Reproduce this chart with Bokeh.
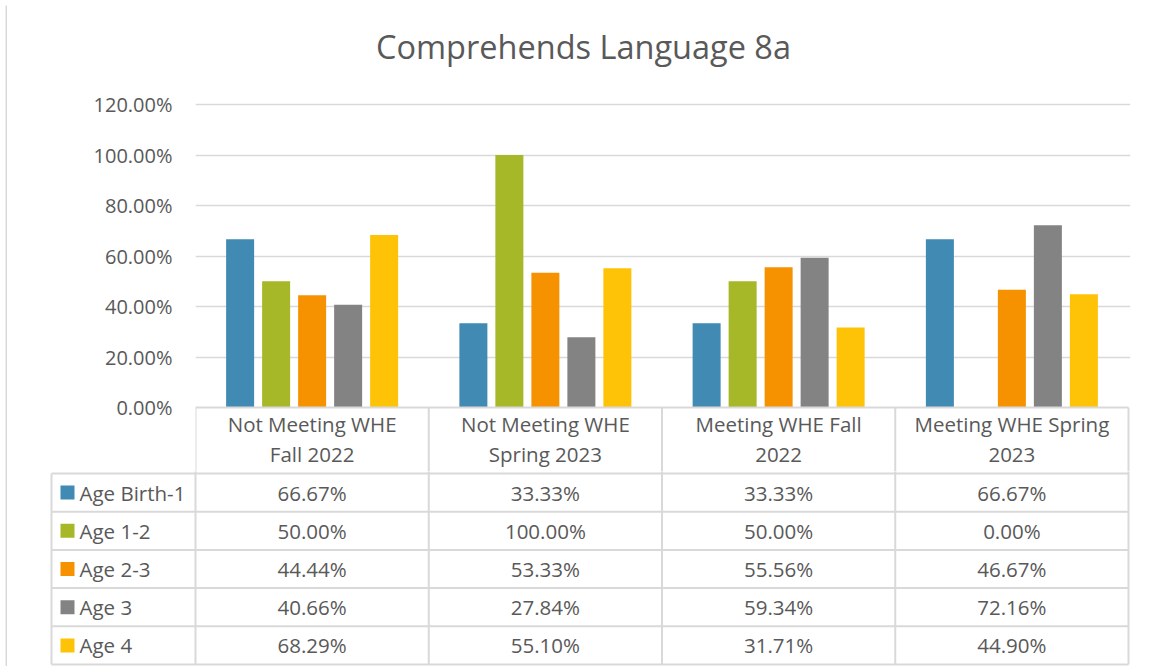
import numpy as np
from bokeh.plotting import figure
from bokeh.layouts import column, row
from bokeh.models import Range1d, FixedTicker, NumeralTickFormatter, ColumnDataSource
from bokeh.core.properties import value
from bokeh.embed import file_html
from bokeh.resources import INLINE

# ---------------- data ----------------
categories = ["Not Meeting WHE\nFall 2022", "Not Meeting WHE\nSpring 2023",
              "Meeting WHE Fall\n2022", "Meeting WHE Spring\n2023"]
series_names = ["Age Birth-1", "Age 1-2", "Age 2-3", "Age 3", "Age 4"]
age_birth_1 = [66.67, 33.33, 33.33, 66.67]
age_1_2 = [50.00, 100.00, 50.00, 0.00]
age_2_3 = [44.44, 53.33, 55.56, 46.67]
age_3 = [40.66, 27.84, 59.34, 72.16]
age_4 = [68.29, 55.10, 31.71, 44.90]
y_ticks = [0, 0.2, 0.4, 0.6, 0.8, 1.0, 1.2]
title_text = "Comprehends Language 8a"

series_values = [age_birth_1, age_1_2, age_2_3, age_3, age_4]
colors = ["#418AB3", "#A6B727", "#F69200", "#838383", "#FEC306"]
TXT = "#595959"
LINE = "#D9D9D9"
FONT = value("Open Sans")

# ---------------- layout constants (page pixels) ----------------
PX_CAT = 233.25           # pixels per category column
PX_Y = 252.5              # pixels per 100%
ROW = 38.2                # table row height
X_END = 4 + 2 / PX_CAT
B = 7                     # outer border strip
TOTAL_W = 1151 - B
Y0 = 407                  # page y of the 0 line
HDR_BOTTOM = 472.7        # page y of the header's bottom line
SPLIT = 471               # page y where the bar chart ends and the table figure starts
PAD = SPLIT - Y0
P1_H = SPLIT - B
TAB_BOTTOM = 664
P2_H = 666 - SPLIT

def base(**kw):
    f = figure(output_backend="svg", toolbar_location=None, x_axis_location=None,
               min_border_top=0, min_border_bottom=0, **kw)
    f.outline_line_color = None
    f.frame_align = False
    return f

# ---------------- outer border strips ----------------
sl = base(width=B, height=B + P1_H + P2_H, x_range=Range1d(0, B),
          y_range=Range1d(B + P1_H + P2_H, 0), y_axis_location=None,
          min_border_left=0, min_border_right=0)
sl.grid.visible = False
sl.segment(x0=[6], x1=[6], y0=[5], y1=[B + P1_H + P2_H], line_color=LINE, line_width=2)
st = base(width=TOTAL_W, height=B, x_range=Range1d(0, TOTAL_W), y_range=Range1d(B, 0),
          y_axis_location=None, min_border_left=0, min_border_right=0)
st.grid.visible = False
st.segment(x0=[0], x1=[TOTAL_W], y0=[6], y1=[6], line_color=LINE, line_width=2)

# ---------------- bar chart + table header ----------------
p1 = base(width=TOTAL_W, height=P1_H,
          x_range=Range1d(0, X_END), y_range=Range1d(-PAD / PX_Y, (Y0 - B) / PX_Y),
          min_border_left=195 - B, min_border_right=1151 - 1130)
p1.xgrid.visible = False
p1.ygrid.grid_line_color = LINE
p1.ygrid.grid_line_width = 1.5
p1.ygrid.ticker = FixedTicker(ticks=y_ticks[1:])
ax = p1.yaxis[0]
ax.ticker = FixedTicker(ticks=y_ticks)
ax.formatter = NumeralTickFormatter(format="0.00%")
ax.axis_line_color = None
ax.major_tick_line_color = None
ax.minor_tick_line_color = None
ax.major_label_text_font = "Open Sans"
ax.major_label_text_font_size = "20px"
ax.major_label_text_color = TXT
ax.major_label_standoff = 17

n_series = len(series_values)
n_cols = len(categories)
n_rows = len(series_names)
step = 36 / PX_CAT
bar_w = 28 / PX_CAT
centers = np.arange(n_cols) + 0.5
for j, (vals, col) in enumerate(zip(series_values, colors)):
    xs = centers + (j - (n_series - 1) / 2) * step
    src = ColumnDataSource(dict(x=xs, top=np.array(vals) / 100.0))
    p1.vbar(x="x", top="top", width=bar_w, source=src, fill_color=col, line_color=None)

# table top line (category axis) and the header's column separators
p1.segment(x0=[0], x1=[n_cols], y0=[0], y1=[0], line_color=LINE, line_width=2)
p1.segment(x0=list(range(n_cols + 1)), x1=list(range(n_cols + 1)),
           y0=[0] * (n_cols + 1), y1=[-PAD / PX_Y - 0.01] * (n_cols + 1),
           line_color=LINE, line_width=2)
# header text (category names)
p1.text(x=centers, y=[-(438.5 - Y0) / PX_Y] * n_cols, text=categories,
        text_font=FONT, text_font_size="20.5px", text_color=TXT,
        text_align="center", text_baseline="middle", text_line_height=1.05)

p1.text(x=[(583 - 195) / PX_CAT], y=[(Y0 - 46) / PX_Y], text=[title_text],
        text_font=FONT, text_font_size="32.5px", text_color=TXT,
        text_align="center", text_baseline="middle")

# ---------------- data table rows ----------------
X_LEFT = -(195 - 51) / PX_CAT
y_start = -(666 - TAB_BOTTOM) / ROW
y_end = y_start + P2_H / ROW
p2 = base(width=TOTAL_W, height=P2_H,
          x_range=Range1d(-(195 - 49) / PX_CAT, X_END), y_range=Range1d(y_start, y_end),
          y_axis_location=None, min_border_left=49 - B, min_border_right=1151 - 1130)
p2.grid.visible = False

hx0, hx1, hy = [], [], []
for r in range(n_rows + 1):
    hx0.append(X_LEFT); hx1.append(n_cols); hy.append(r)
p2.segment(x0=hx0, x1=hx1, y0=hy, y1=hy, line_color=LINE, line_width=2)
vx, vy0, vy1 = [], [], []
for c in range(n_cols + 1):
    vx.append(c); vy0.append(0); vy1.append(y_end + 0.1)
vx.append(X_LEFT); vy0.append(0); vy1.append(n_rows)
p2.segment(x0=vx, x1=vx, y0=vy0, y1=vy1, line_color=LINE, line_width=2)

row_y = n_rows - 0.5 - np.arange(n_rows)
p2.scatter(x=[-(195 - 67) / PX_CAT] * n_rows, y=row_y, marker="square", size=14,
           fill_color=colors, line_color=None)
p2.text(x=[-(195 - 79) / PX_CAT] * n_rows, y=row_y, text=series_names,
        text_font=FONT, text_font_size="20.5px", text_color=TXT,
        text_align="left", text_baseline="middle")
cx, cy, ct = [], [], []
for r, vals in enumerate(series_values):
    for c, v in enumerate(vals):
        cx.append(centers[c]); cy.append(row_y[r]); ct.append(f"{v:.2f}%")
p2.text(x=cx, y=cy, text=ct, text_font=FONT, text_font_size="20.5px", text_color=TXT,
        text_align="center", text_baseline="middle")

layout = row(sl, column(st, p1, p2, spacing=0), spacing=0)

open("out.html", "w").write(file_html(layout, INLINE))
